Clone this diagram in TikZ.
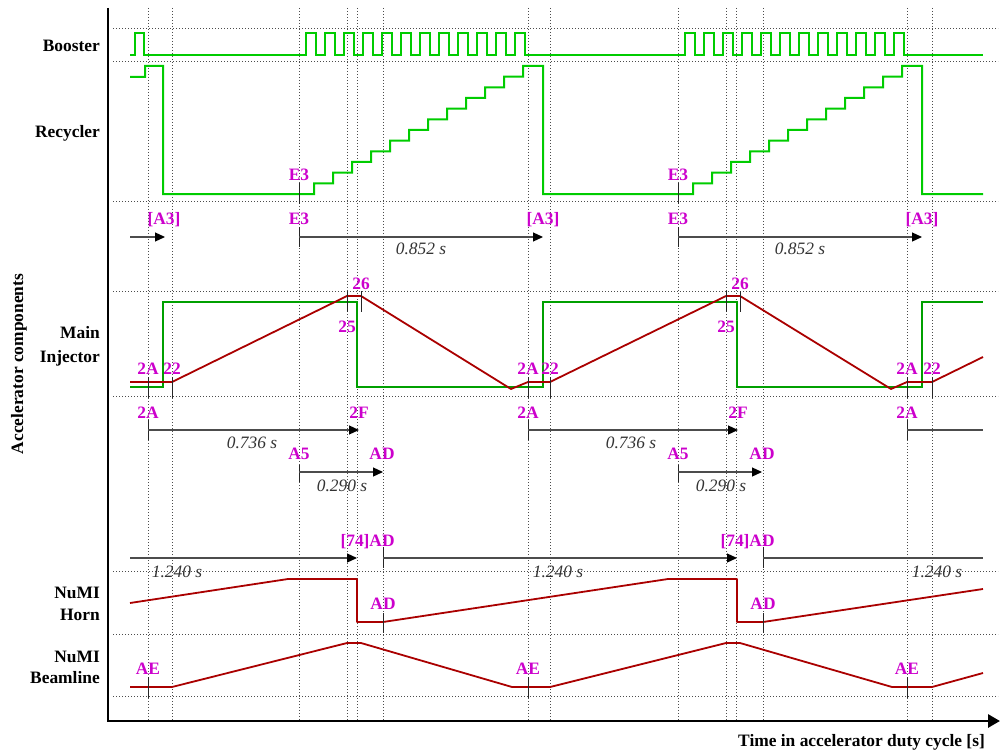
\documentclass[tikz,border=0pt]{standalone}
\usepackage{fontspec}
\setmainfont{Liberation Serif}
\usetikzlibrary{arrows.meta}
\definecolor{mag}{RGB}{204,0,204}
\definecolor{gA}{RGB}{0,204,0}
\definecolor{gB}{RGB}{0,160,0}
\definecolor{rA}{RGB}{170,0,0}
\begin{document}
\begin{tikzpicture}[x=1pt,y=-1pt,
  gridl/.style={line width=0.8pt, black!70, dash pattern=on 0.8pt off 2.2pt},
  gsig/.style={line width=2pt, gA, line join=miter},
  msig/.style={line width=2pt, gB, line join=miter},
  rsig/.style={line width=1.8pt, rA, line join=round},
  tickl/.style={line width=0.9pt, black!85},
  dur/.style={line width=1.2pt, black!70, -{Triangle[length=10pt,width=9pt,color=black]}},
  durn/.style={line width=1.2pt, black!70},
  lab/.style={text=mag, font=\bfseries\fontsize{17.4}{20}\selectfont, inner sep=0pt, anchor=base},
  dtxt/.style={text=black!80, font=\itshape\fontsize{17.4}{20}\selectfont, inner sep=0pt, anchor=base},
  cname/.style={font=\bfseries\fontsize{17.4}{20}\selectfont, inner sep=0pt, anchor=base east}]
\useasboundingbox (0,0) rectangle (1000,754);

% grid
\foreach \gx in {148,172,299,347,357,383,528,550,678,726,736,763,907,932}
  \draw[gridl] (\gx,8) -- (\gx,720);
\foreach \gy in {28,61,201,291,396,571,634,696}
  \draw[gridl] (113,\gy) -- (998,\gy);

% Booster
\draw[gsig] (130,55) -- (135,55) -- (135,33) -- (144,33) -- (144,55) -- (306,55)
  \foreach \k in {0,...,11} { -- ({306+19*\k},55) -- ({306+19*\k},33) -- ({315.5+19*\k},33) -- ({315.5+19*\k},55) }
  -- (685,55)
  \foreach \k in {0,...,11} { -- ({685+19*\k},55) -- ({685+19*\k},33) -- ({694.5+19*\k},33) -- ({694.5+19*\k},55) }
  -- (983,55);

% Recycler
\draw[gsig] (130,77) -- (145,77) -- (145,66) -- (163,66) -- (163,194) -- (314,194)
  \foreach \k in {0,...,11} { -- ({314+19*\k},{194-10.667*\k}) -- ({314+19*\k},{194-10.667*(\k+1)}) }
  -- (543,66) -- (543,194) -- (693,194)
  \foreach \k in {0,...,11} { -- ({693+19*\k},{194-10.667*\k}) -- ({693+19*\k},{194-10.667*(\k+1)}) }
  -- (922,66) -- (922,194) -- (983,194);

% Main Injector
\draw[msig] (130,387) -- (163,387) -- (163,302) -- (357,302) -- (357,387) -- (543,387)
  -- (543,302) -- (737,302) -- (737,387) -- (922,387) -- (922,302) -- (983,302);
\draw[rsig] (130,382) -- (172,382) -- (347,296) -- (361,296) -- (511,389) -- (528,382)
  -- (550,382) -- (726,296) -- (740,296) -- (891,389) -- (907,382) -- (932,382) -- (983,357);

% NuMI Horn
\draw[rsig] (130,603) -- (288,579) -- (357,579) -- (357,622) -- (383,622) -- (668,579)
  -- (737,579) -- (737,622) -- (763,622) -- (983,589);

% NuMI Beamline
\draw[rsig] (130,687) -- (172,687) -- (347,643) -- (361,643) -- (512,687) -- (550,687)
  -- (726,643) -- (740,643) -- (892,687) -- (932,687) -- (983,673);

% ticks
\foreach \tx in {299,678} {
  \draw[tickl] (\tx,183) -- (\tx,204);
  \draw[tickl] (\tx,227) -- (\tx,247);
  \draw[tickl] (\tx,465) -- (\tx,482);
}
\foreach \tx in {347,361,726,740}
  \draw[tickl] (\tx,291) -- (\tx,312);
\foreach \tx in {148,172,528,550,907,932}
  \draw[tickl] (\tx,377) -- (\tx,398);
\foreach \tx in {148,528,907} {
  \draw[tickl] (\tx,420) -- (\tx,440);
  \draw[tickl] (\tx,677) -- (\tx,698);
}
\foreach \tx in {383,763} {
  \draw[tickl] (\tx,547) -- (\tx,568);
  \draw[tickl] (\tx,613) -- (\tx,633);
}

% duration arrows
\coordinate (r0s) at (130,237); \coordinate (r0e) at (165,237);
\coordinate (r1s) at (299,237); \coordinate (r1e) at (543,237);
\coordinate (r2s) at (678,237); \coordinate (r2e) at (922,237);
\draw[dur] (r0s) -- (r0e);
\draw[dur] (r1s) -- (r1e);
\draw[dur] (r2s) -- (r2e);
\coordinate (m1s) at (148,430); \coordinate (m1e) at (359,430);
\coordinate (m2s) at (528,430); \coordinate (m2e) at (738,430);
\coordinate (m3s) at (907,430); \coordinate (m3e) at (983,430);
\draw[dur] (m1s) -- (m1e);
\draw[dur] (m2s) -- (m2e);
\draw[durn] (m3s) -- (m3e);
\coordinate (a1s) at (299,472); \coordinate (a1e) at (383,472);
\coordinate (a2s) at (678,472); \coordinate (a2e) at (762,472);
\draw[dur] (a1s) -- (a1e);
\draw[dur] (a2s) -- (a2e);
\coordinate (h0s) at (130,558); \coordinate (h0e) at (357,558);
\coordinate (h1s) at (383,558); \coordinate (h1e) at (737,558);
\coordinate (h2s) at (763,558); \coordinate (h2e) at (983,558);
\draw[dur] (h0s) -- (h0e);
\draw[dur] (h1s) -- (h1e);
\draw[durn] (h2s) -- (h2e);

% axes
\draw[line width=2.8pt, line join=miter, -{Triangle[length=12pt,width=13pt]}] (108,8) -- (108,721) -- (1000,721);

% magenta labels
\node[lab] (e3a) at (299,181) {E3};
\node[lab] (e3b) at (678,181) {E3};
\node[lab] (e3c) at (299,224) {E3};
\node[lab] (e3d) at (678,224) {E3};
\node[lab] (a3a) at (164,224) {[A3]};
\node[lab] (a3b) at (543,224) {[A3]};
\node[lab] (a3c) at (922,224) {[A3]};
\node[lab] (l26a) at (361,289) {26};
\node[lab] (l26b) at (740,289) {26};
\node[lab] (l25a) at (347,332) {25};
\node[lab] (l25b) at (726,332) {25};
\node[lab] (l2aa) at (148,374) {2A};
\node[lab] (l22a) at (172,374) {22};
\node[lab] (l2ab) at (528,374) {2A};
\node[lab] (l22b) at (550,374) {22};
\node[lab] (l2ac) at (907,374) {2A};
\node[lab] (l22c) at (932,374) {22};
\node[lab] (l2ad) at (148,418) {2A};
\node[lab] (l2ae) at (528,418) {2A};
\node[lab] (l2af) at (907,418) {2A};
\node[lab] (l2fa) at (359,418) {2F};
\node[lab] (l2fb) at (738,418) {2F};
\node[lab] (a5a) at (299,459) {A5};
\node[lab] (a5b) at (678,459) {A5};
\node[lab] (ada) at (382,459) {AD};
\node[lab] (adb) at (762,459) {AD};
\node[lab] (l74a) at (355,546) {[74]};
\node[lab] (l74b) at (735,546) {[74]};
\node[lab] (adc) at (382,546) {AD};
\node[lab] (add) at (762,546) {AD};
\node[lab] (ade) at (383,609) {AD};
\node[lab] (adf) at (763,609) {AD};
\node[lab] (aea) at (148,674) {AE};
\node[lab] (aeb) at (528,674) {AE};
\node[lab] (aec) at (907,674) {AE};

% durations text
\node[dtxt] (d1) at (421,254) {0.852 s};
\node[dtxt] (d2) at (800,254) {0.852 s};
\node[dtxt] (d3) at (252,448) {0.736 s};
\node[dtxt] (d4) at (631,448) {0.736 s};
\node[dtxt] (d5) at (342,491) {0.290 s};
\node[dtxt] (d6) at (721,491) {0.290 s};
\node[dtxt] (d7) at (177,577) {1.240 s};
\node[dtxt] (d8) at (558,577) {1.240 s};
\node[dtxt] (d9) at (937,577) {1.240 s};

% component names
\node[cname] (nb) at (100,52) {Booster};
\node[cname] (nr) at (100,138) {Recycler};
\node[cname] (nm1) at (100,338) {Main};
\node[cname] (nm2) at (100,362) {Injector};
\node[cname] (nh1) at (100,598) {NuMI};
\node[cname] (nh2) at (100,620) {Horn};
\node[cname] (nl1) at (100,662) {NuMI};
\node[cname] (nl2) at (100,683) {Beamline};
\node[font=\bfseries\fontsize{17.4}{20}\selectfont, inner sep=0pt, rotate=90] (ylab) at (19,364) {Accelerator components};
\node[cname] (xlab) at (985,746) {Time in accelerator duty cycle [s]};
\end{tikzpicture}
\end{document}
